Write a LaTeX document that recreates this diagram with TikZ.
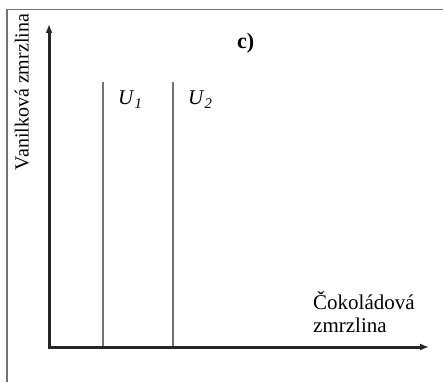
\documentclass[tikz,border=0pt]{standalone}
\usepackage{fontspec}
\setmainfont{Liberation Serif}
\usetikzlibrary{arrows.meta}
\begin{document}
\begin{tikzpicture}[x=1pt,y=1pt,
  axis/.style={line width=3pt,color=black!85,-{Latex[length=9pt,width=7pt]}},
  ucurve/.style={line width=1.8pt,color=black!55},
  frame/.style={line width=1.2pt,color=black!55},
  lbl/.style={font=\fontsize{21}{21}\selectfont,inner sep=0pt}]
\useasboundingbox (0,0) rectangle (443,382);
\coordinate (ftl) at (7,372.5);
\coordinate (fbl) at (7,0);
\coordinate (ftr) at (443,372.5);
\draw[frame] (fbl) -- (ftl) -- (ftr);
\coordinate (o) at (49,35);
\coordinate (ytop) at (49,358);
\coordinate (xend) at (429,35);
\coordinate (u1b) at (103,35);
\coordinate (u1t) at (103,300);
\coordinate (u2b) at (173,35);
\coordinate (u2t) at (173,300);
\draw[ucurve] (u1b) -- (u1t);
\draw[ucurve] (u2b) -- (u2t);
\draw[axis] ([xshift=-1.5pt]o) -- (xend);
\draw[axis] ([yshift=-1.5pt]o) -- (ytop);
\node[lbl,anchor=base west] (l1) at (118,277) {\textit{U}\textsubscript{\textit{1}}};
\node[lbl,anchor=base west] (l2) at (188,277) {\textit{U}\textsubscript{\textit{2}}};
\node[lbl,anchor=base west,font=\fontsize{22}{22}\selectfont\bfseries] (c) at (237,333.5) {c)};
\node[lbl,rotate=90,anchor=base,font=\fontsize{20}{20}\selectfont] (vy) at (28.5,290) {Vanilková zmrzlina};
\node[lbl,anchor=base west] (vx1) at (313,72) {Čokoládová};
\node[lbl,anchor=base west] (vx2) at (313,49) {zmrzlina};
\end{tikzpicture}
\end{document}
